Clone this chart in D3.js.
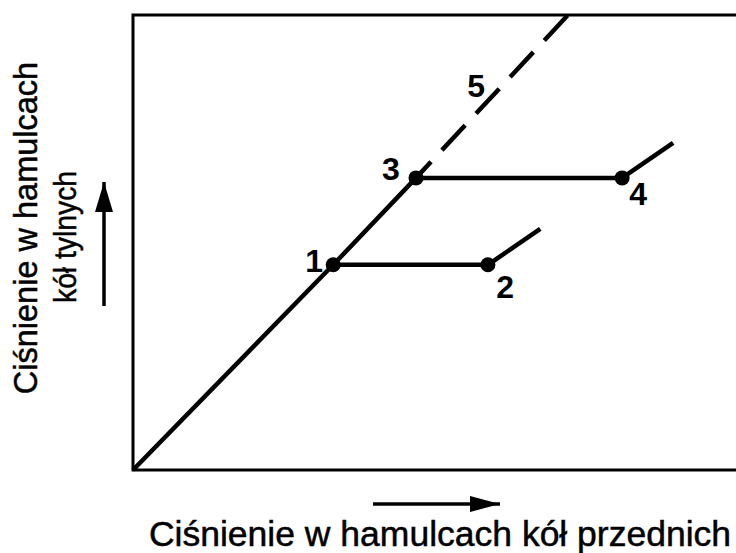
<!DOCTYPE html>
<html>
<head>
<meta charset="utf-8">
<script src="https://cdn.jsdelivr.net/npm/d3@7"></script>
<style>
  html, body { margin: 0; padding: 0; background: #fff; }
  svg { display: block; }
  text { font-family: "Liberation Sans", Arial, Helvetica, sans-serif; fill: #000; }
</style>
</head>
<body>
<svg id="chart" width="736" height="553"></svg>
<script>
// ---- data (arbitrary pressure units 0..100) ----
const mainLine   = [[0, 0], [44.0, 45.1], [62.2, 64.2]];        // solid line 0 -> 1 -> 3
const dashedLine = [[62.2, 64.2], [95.6, 100]];                 // dashed continuation 5
const branchA    = [[44.0, 45.1], [78.0, 45.1], [89.5, 53.0]];  // 1 -> 2 -> tail
const branchB    = [[62.2, 64.2], [107.5, 64.2], [118.7, 71.9]]; // 3 -> 4 -> tail
const points     = [
  {id: "1", x: 44.0,  y: 45.1},
  {id: "2", x: 78.0,  y: 45.1},
  {id: "3", x: 62.2,  y: 64.2},
  {id: "4", x: 107.5, y: 64.2}
];
const pointLabels = [
  {text: "1", x: 39.8,  y: 43.5},
  {text: "2", x: 81.8,  y: 37.8},
  {text: "3", x: 56.7,  y: 63.7},
  {text: "4", x: 111.0, y: 58.2},
  {text: "5", x: 75.4,  y: 82.0}
];
const xTitle  = "Ciśnienie w hamulcach kół przednich";
const yTitle  = ["Ciśnienie w hamulcach", "kół tylnych"];

// ---- layout ----
const svg = d3.select("#chart");
const mLeft = 133, mTop = 15, mBottom = 470, mRight = 740;
const x = d3.scaleLinear().domain([0, 133.4]).range([mLeft, mRight]);
const y = d3.scaleLinear().domain([0, 100]).range([mBottom, mTop]);

// frame (open on the right)
svg.append("path")
  .attr("d", `M${mRight},${mTop}H${mLeft}V${mBottom}H${mRight}`)
  .attr("fill", "none").attr("stroke", "#000").attr("stroke-width", 3);

const line = d3.line().x(d => x(d[0])).y(d => y(d[1]));

const g = svg.append("g");
g.append("path").datum(mainLine).attr("d", line)
  .attr("fill", "none").attr("stroke", "#000").attr("stroke-width", 4.5);
g.append("path").datum(dashedLine).attr("d", line)
  .attr("fill", "none").attr("stroke", "#000").attr("stroke-width", 4.5)
  .attr("stroke-dasharray", "34,16").attr("stroke-dashoffset", 12);
[branchA, branchB].forEach(b => {
  g.append("path").datum(b).attr("d", line)
    .attr("fill", "none").attr("stroke", "#000").attr("stroke-width", 4.5)
    .attr("stroke-linejoin", "round");
});
g.selectAll("circle.pt").data(points).join("circle")
  .attr("class", "pt")
  .attr("cx", d => x(d.x)).attr("cy", d => y(d.y)).attr("r", 7.5)
  .attr("fill", "#000");

g.selectAll("text.lbl").data(pointLabels).join("text")
  .attr("class", "lbl")
  .attr("x", d => x(d.x)).attr("y", d => y(d.y))
  .attr("text-anchor", "middle")
  .attr("font-size", 32).attr("font-weight", "bold")
  .text(d => d.text);

// arrow markers
const defs = svg.append("defs");
defs.append("marker").attr("id", "arrX")
  .attr("viewBox", "0 0 30 16").attr("refX", 30).attr("refY", 8)
  .attr("markerWidth", 30).attr("markerHeight", 16)
  .attr("markerUnits", "userSpaceOnUse").attr("orient", "auto")
  .append("path").attr("d", "M0,0L30,8L0,16Z").attr("fill", "#000");
defs.append("marker").attr("id", "arrY")
  .attr("viewBox", "0 0 30 18").attr("refX", 30).attr("refY", 9)
  .attr("markerWidth", 30).attr("markerHeight", 18)
  .attr("markerUnits", "userSpaceOnUse").attr("orient", "auto")
  .append("path").attr("d", "M0,0L30,9L0,18Z").attr("fill", "#000");

// x arrow + title
svg.append("line").attr("x1", 373).attr("y1", 504).attr("x2", 500).attr("y2", 504)
  .attr("stroke", "#000").attr("stroke-width", 3.5).attr("marker-end", "url(#arrX)");
svg.append("text").attr("x", 440).attr("y", 546)
  .attr("text-anchor", "middle").attr("font-size", 35.5)
  .attr("stroke", "#000").attr("stroke-width", 0.5)
  .text(xTitle);

// y arrow + title
svg.append("line").attr("x1", 104).attr("y1", 306).attr("x2", 104).attr("y2", 182)
  .attr("stroke", "#000").attr("stroke-width", 3.5).attr("marker-end", "url(#arrY)");
const yt = svg.append("g").attr("transform", "rotate(-90)");
yt.append("text").attr("x", -228).attr("y", 37)
  .attr("text-anchor", "middle").attr("font-size", 32.5)
  .attr("stroke", "#000").attr("stroke-width", 0.5)
  .text(yTitle[0]);
yt.append("text").attr("x", -237).attr("y", 76)
  .attr("text-anchor", "middle").attr("font-size", 31)
  .attr("stroke", "#000").attr("stroke-width", 0.5)
  .attr("textLength", 132).attr("lengthAdjust", "spacingAndGlyphs")
  .text(yTitle[1]);
</script>
</body>
</html>
